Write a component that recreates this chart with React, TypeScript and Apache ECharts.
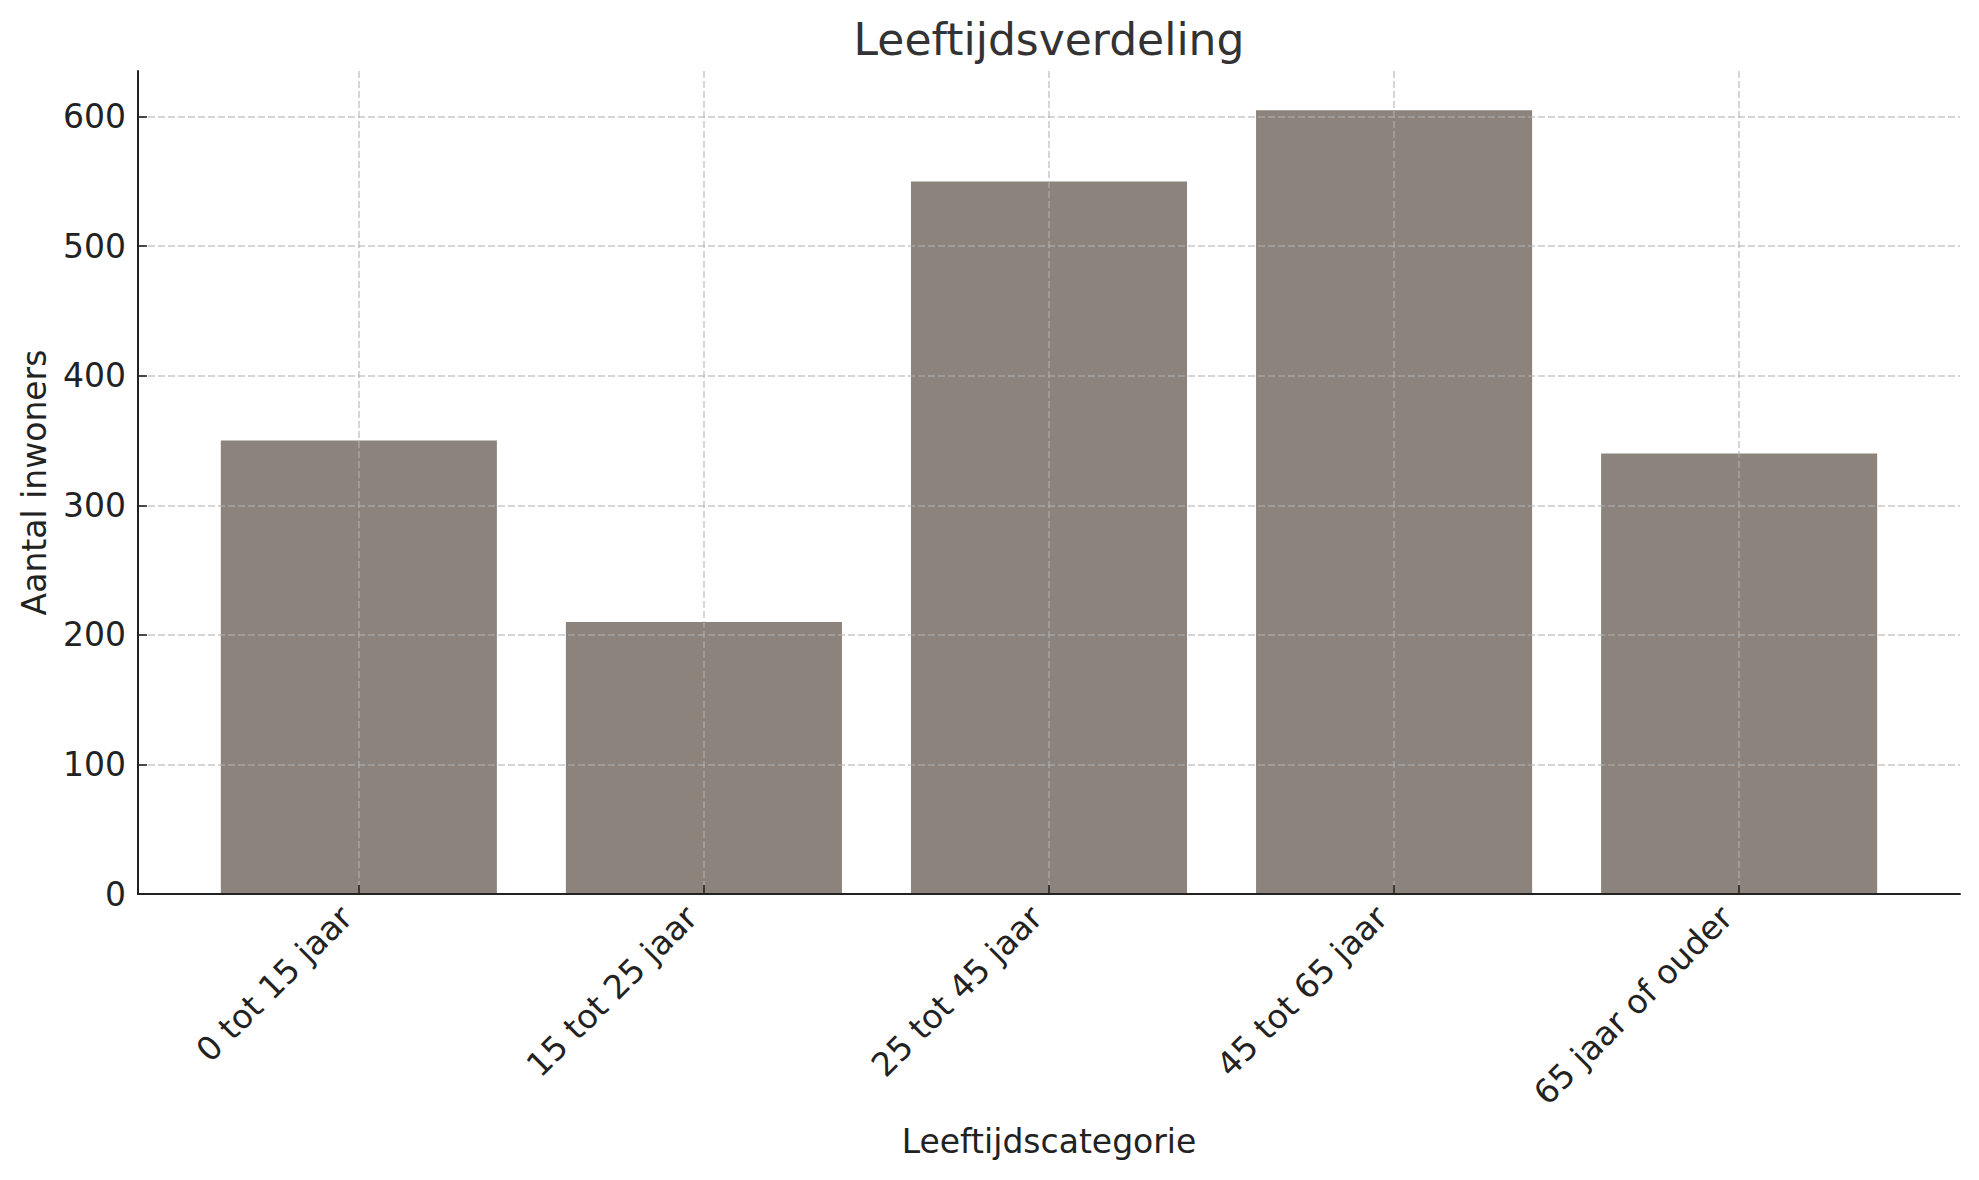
import React, { useEffect, useRef } from "react";
import * as echarts from "echarts";

const categories = ["0 tot 15 jaar", "15 tot 25 jaar", "25 tot 45 jaar", "45 tot 65 jaar", "65 jaar of ouder"];
const values = [350, 210, 550, 605, 340];
const yTicks = [0, 100, 200, 300, 400, 500, 600];
const title = "Leeftijdsverdeling";
const xName = "Leeftijdscategorie";
const yName = "Aantal inwoners";

export default function App() {
  const ref = useRef<HTMLDivElement>(null);
  useEffect(() => {
    if (!ref.current) return;
    const chart = echarts.init(ref.current, null, { renderer: "svg" });
    const font = "DejaVu Sans";
    const gridLine = { show: true, lineStyle: { color: "rgba(176,176,176,0.7)", width: 1.5, type: [7, 3] } };
    const idx = categories.map((_, i) => i);
    chart.setOption({
      animation: false,
      backgroundColor: "#ffffff",
      graphic: [
        {
          type: "text",
          x: 1049,
          y: 39,
          style: {
            text: title,
            fontFamily: font,
            fontSize: 44,
            fill: "#333333",
            textAlign: "center",
            textVerticalAlign: "middle",
          },
        },
      ],
      grid: { left: 138, right: 19, top: 71, bottom: 286, containLabel: false },
      xAxis: {
        type: "value",
        min: -0.64,
        max: 4.64,
        z: 5,
        name: xName,
        nameLocation: "middle",
        nameGap: 231,
        nameTextStyle: { fontFamily: font, fontSize: 33, color: "#222222" },
        axisLine: { show: true, onZero: false, lineStyle: { color: "#222222", width: 2 } },
        axisTick: { show: true, inside: true, length: 9, customValues: idx, lineStyle: { color: "#222222", width: 1.6 } },
        axisLabel: {
          customValues: idx,
          rotate: 45,
          margin: 5,
          padding: [0, 18, 0, 0],
          fontFamily: font,
          fontSize: 33,
          color: "#222222",
          formatter: (v: number) => categories[Math.round(v)] ?? "",
        },
        splitLine: gridLine,
      },
      yAxis: {
        type: "value",
        min: 0,
        max: 635.25,
        z: 5,
        name: yName,
        nameLocation: "middle",
        nameGap: 87,
        nameTextStyle: { fontFamily: font, fontSize: 33, color: "#222222" },
        axisLine: { show: true, onZero: false, lineStyle: { color: "#222222", width: 2 } },
        axisTick: { show: true, inside: true, length: 9, customValues: yTicks, lineStyle: { color: "#222222", width: 1.6 } },
        axisLabel: { customValues: yTicks, margin: 12, fontFamily: font, fontSize: 33, color: "#222222" },
        splitLine: gridLine,
      },
      series: [
        {
          type: "bar",
          data: values.map((v, i) => [i, v]),
          barWidth: "80%",
          itemStyle: { color: "#8b837c" },
        },
      ],
    });
    return () => chart.dispose();
  }, []);
  return <div ref={ref} style={{ position: "fixed", left: 0, top: 0, width: 1979, height: 1180 }} />;
}
